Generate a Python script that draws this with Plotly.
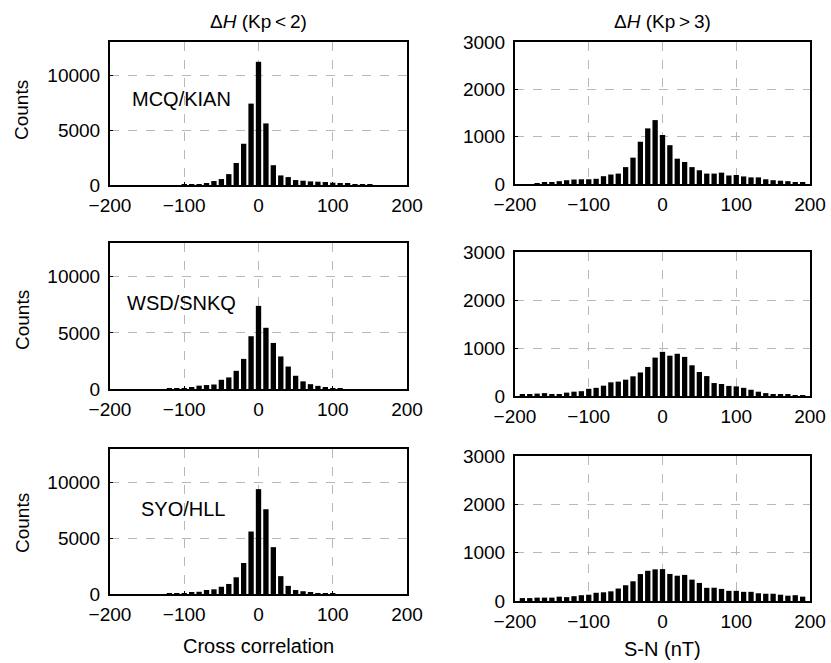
import plotly.graph_objects as go
from plotly.subplots import make_subplots

# ---- data ----
left_bins = list(range(-120, 160, 10))  # -120 .. 150
right_bins = list(range(-190, 200, 10))  # -190 .. 190

mcq_quiet = {  # MCQ/KIAN, Kp<2
    -120: 0, -110: 0, -100: 20, -90: 30, -80: 90, -70: 150, -60: 360, -50: 540,
    -40: 990, -30: 2000, -20: 3750, -10: 7400, 0: 11200, 10: 5600, 20: 1800,
    30: 870, 40: 720, 50: 450, 60: 390, 70: 330, 80: 300, 90: 270, 100: 210,
    110: 150, 120: 120, 130: 90, 140: 60, 150: 30,
}
wsd_quiet = {  # WSD/SNKQ, Kp<2
    -120: 10, -110: 30, -100: 60, -90: 150, -80: 300, -70: 350, -60: 400,
    -50: 820, -40: 1030, -30: 1620, -20: 2680, -10: 4700, 0: 7400, 10: 5450,
    20: 4100, 30: 2900, 40: 2000, 50: 1180, 60: 680, 70: 430, 80: 280,
    90: 120, 100: 50, 110: 10, 120: 0, 130: 0, 140: 0, 150: 0,
}
syo_quiet = {  # SYO/HLL, Kp<2
    -120: 20, -110: 40, -100: 80, -90: 120, -80: 200, -70: 360, -60: 420,
    -50: 650, -40: 900, -30: 1500, -20: 2780, -10: 5600, 0: 9400, 10: 7600,
    20: 4200, 30: 1600, 40: 730, 50: 360, 60: 250, 70: 120, 80: 50, 90: 30,
    100: 20, 110: 0, 120: 0, 130: 0, 140: 0, 150: 0,
}

mcq_active = [0, 0, 20, 30, 40, 60, 80, 95, 100, 100, 110, 165, 200, 220, 357,
              557, 893, 1175, 1350, 1035, 820, 535, 465, 357, 290, 220, 220,
              240, 180, 190, 160, 140, 140, 100, 80, 70, 60, 30, 30]
wsd_active = [40, 40, 50, 60, 40, 30, 70, 90, 100, 150, 170, 215, 285, 300,
              340, 410, 490, 605, 800, 920, 840, 880, 815, 640, 500, 415, 270,
              250, 210, 200, 170, 130, 90, 60, 40, 30, 40, 20, 10]
syo_active = [60, 60, 70, 70, 70, 90, 80, 100, 120, 130, 170, 180, 200, 258,
              326, 408, 557, 625, 655, 660, 560, 523, 540, 442, 374, 272, 275,
              250, 210, 210, 190, 190, 160, 150, 150, 130, 110, 120, 90]

stations = ["MCQ/KIAN", "WSD/SNKQ", "SYO/HLL"]
quiet_counts = [mcq_quiet, wsd_quiet, syo_quiet]
active_counts = [mcq_active, wsd_active, syo_active]

x_ticks = [-200, -100, 0, 100, 200]
left_yticks = [0, 5000, 10000]
left_ytext = ["0", "5000", "10000"]
right_yticks = [0, 1000, 2000, 3000]
right_ytext = ["0", "1000", "2000", "3000"]

W, H = 831, 663
# pixel boxes (x0, x1, ytop, ybottom)
left_boxes = [(110, 407, 42, 185), (110, 407, 243, 389), (110, 407, 449, 594)]
right_boxes = [(515, 810, 42, 184), (515, 810, 252, 396), (515, 810, 456, 601)]

FONT = "Liberation Sans, Arial, sans-serif"
fig = make_subplots(rows=3, cols=2)

for r in range(3):
    q = quiet_counts[r]
    fig.add_trace(go.Bar(x=left_bins, y=[q[b] for b in left_bins],
                         marker=dict(color="black", line=dict(width=0)),
                         showlegend=False), row=r + 1, col=1)
    fig.add_trace(go.Bar(x=right_bins, y=active_counts[r],
                         marker=dict(color="black", line=dict(width=0)),
                         showlegend=False), row=r + 1, col=2)

def dom(box):
    x0, x1, yt, yb = box
    return [x0 / W, x1 / W], [1 - yb / H, 1 - yt / H]

axis_common = dict(showline=True, linecolor="black", linewidth=2, mirror=True,
                   showgrid=True, gridcolor="#b8b8b8", griddash="dash", gridwidth=1,
                   ticks="inside", ticklen=3, tickcolor="black", zeroline=False,
                   automargin=False,
                   tickfont=dict(family=FONT, size=19, color="black"))

for r in range(3):
    for c in range(2):
        idx = r * 2 + c + 1
        box = left_boxes[r] if c == 0 else right_boxes[r]
        xd, yd = dom(box)
        xname = "xaxis" if idx == 1 else f"xaxis{idx}"
        yname = "yaxis" if idx == 1 else f"yaxis{idx}"
        fig.layout[xname].update(domain=xd, range=[-200, 200], tickvals=x_ticks,
                                 ticklabelstandoff=2, **axis_common)
        if c == 0:
            fig.layout[yname].update(domain=yd, range=[0, 13000], tickvals=left_yticks,
                                     ticktext=left_ytext, ticklabelstandoff=4, **axis_common)
        else:
            fig.layout[yname].update(domain=yd, range=[0, 3000], tickvals=right_yticks,
                                     ticktext=right_ytext, ticklabelstandoff=4, **axis_common)

annotations = []
label_pos = [(130, 99), (125, 303), (139, 509)]
counts_y = [110, 320, 523]
for r in range(3):
    x, y = label_pos[r]
    annotations.append(dict(text=stations[r], x=x / W, y=1 - y / H, xref="paper", yref="paper",
                            xanchor="left", yanchor="middle", showarrow=False,
                            font=dict(family=FONT, size=20, color="black")))
    annotations.append(dict(text="Counts", x=22 / W, y=1 - counts_y[r] / H, xref="paper",
                            yref="paper", textangle=-90, showarrow=False,
                            xanchor="center", yanchor="middle",
                            font=dict(family=FONT, size=19, color="black")))

def center_text(text, x, y, size):
    return dict(text=text, x=x / W, y=1 - y / H, xref="paper", yref="paper",
                xanchor="center", yanchor="middle", showarrow=False,
                font=dict(family=FONT, size=size, color="black"))

annotations.append(center_text("Δ<i>H</i> (Kp\u2009<\u20092)", 258, 22, 19))
annotations.append(center_text("Δ<i>H</i> (Kp\u2009>\u20093)", 662, 22, 19))
annotations.append(center_text("Cross correlation", 258, 646, 20))
annotations.append(center_text("S-N (nT)", 662, 649, 20))

fig.update_layout(width=W, height=H, margin=dict(l=0, r=0, t=0, b=0),
                  paper_bgcolor="white", plot_bgcolor="white", bargap=0.28,
                  annotations=annotations, font=dict(family=FONT, color="black"))

fig.write_html("out.html")
